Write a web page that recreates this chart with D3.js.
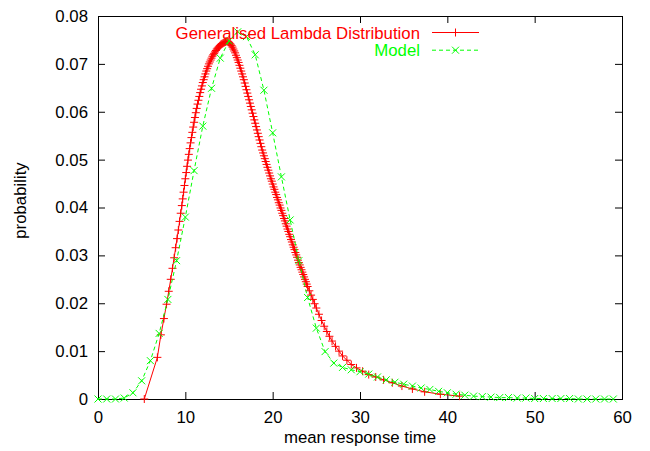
<!DOCTYPE html>
<html>
<head>
<meta charset="utf-8">
<script src="https://cdn.jsdelivr.net/npm/d3@7"></script>
<style>
  body { margin: 0; background: #fff; }
  text { font-family: "Liberation Sans", Arial, Helvetica, sans-serif; }
</style>
</head>
<body>
<div id="chart"></div>
<script>
// tick values
var xTicks = [0, 10, 20, 30, 40, 50, 60];
var yTicks = [0, 0.01, 0.02, 0.03, 0.04, 0.05, 0.06, 0.07, 0.08];

// generalised lambda distribution (dense points)
var gldX = [5.3, 6.8, 7.2, 7.55, 7.85, 8.1, 8.33, 8.53, 8.72, 8.89, 9.05, 9.2, 9.34, 9.47,
  9.6, 9.7, 9.8, 9.9, 10.0, 10.1, 10.2, 10.3, 10.4, 10.5, 10.6, 10.7, 10.8, 10.9,
  11.0, 11.1, 11.2, 11.3, 11.4, 11.5, 11.6, 11.7, 11.8, 11.9, 12.0, 12.1, 12.2, 12.3,
  12.4, 12.5, 12.6, 12.7, 12.8, 12.9, 13.0, 13.1, 13.2, 13.3, 13.4, 13.5, 13.6, 13.7,
  13.8, 13.9, 14.0, 14.1, 14.2, 14.3, 14.4, 14.5, 14.6, 14.7, 14.8, 14.9, 15.0, 15.1,
  15.2, 15.3, 15.4, 15.5, 15.6, 15.7, 15.8, 15.9, 16.0, 16.1, 16.2, 16.3, 16.4, 16.5,
  16.6, 16.7, 16.8, 16.9, 17.0, 17.1, 17.2, 17.3, 17.4, 17.5, 17.6, 17.7, 17.8, 17.9,
  18.0, 18.1, 18.2, 18.3, 18.4, 18.5, 18.6, 18.7, 18.8, 18.9, 19.0, 19.1, 19.2, 19.3,
  19.4, 19.5, 19.6, 19.7, 19.8, 19.9, 20.0, 20.1, 20.2, 20.3, 20.4, 20.5, 20.6, 20.7,
  20.8, 20.9, 21.0, 21.1, 21.2, 21.3, 21.4, 21.5, 21.6, 21.7, 21.8, 21.9, 22.0, 22.1,
  22.2, 22.3, 22.4, 22.5, 22.6, 22.7, 22.8, 22.9, 23.0, 23.1, 23.2, 23.3, 23.4, 23.5,
  23.6, 23.7, 23.8, 23.9, 24.0, 24.2, 24.4, 24.6, 24.8, 25.0, 25.3, 25.6, 25.9, 26.2,
  26.5, 26.8, 27.2, 27.6, 28.0, 28.5, 29.0, 29.6, 30.3, 31.0, 31.8, 32.7, 33.7, 34.8,
  36.0, 37.4, 39.2, 41.4];
var gldY = [0, 0.0087, 0.0134, 0.0168, 0.0198, 0.0225, 0.0250, 0.0273, 0.0295, 0.0316, 0.0335, 0.0353, 0.0371, 0.0388,
  0.0404, 0.0418, 0.0432, 0.0446, 0.0460, 0.0473, 0.0486, 0.0499, 0.0511, 0.0523, 0.0535, 0.0546, 0.0557, 0.0568,
  0.0578, 0.0588, 0.0598, 0.0607, 0.0616, 0.0624, 0.0632, 0.0640, 0.0647, 0.0654, 0.0661, 0.0667, 0.0673, 0.0679,
  0.0685, 0.0690, 0.0695, 0.0700, 0.0704, 0.0708, 0.0712, 0.0716, 0.0719, 0.0722, 0.0725, 0.0728, 0.0731, 0.0733,
  0.0735, 0.0737, 0.0739, 0.0741, 0.0742, 0.0743, 0.0744, 0.0745, 0.0746, 0.0747, 0.0747, 0.0746, 0.0745, 0.0743,
  0.0741, 0.0738, 0.0735, 0.0731, 0.0727, 0.0723, 0.0718, 0.0713, 0.0708, 0.0703, 0.0697, 0.0691, 0.0685, 0.0679,
  0.0673, 0.0667, 0.0660, 0.0653, 0.0646, 0.0639, 0.0632, 0.0625, 0.0618, 0.0611, 0.0604, 0.0597, 0.0590, 0.0583,
  0.0576, 0.0569, 0.0562, 0.0555, 0.0548, 0.0541, 0.0534, 0.0527, 0.0520, 0.0514, 0.0508, 0.0502, 0.0496, 0.0490,
  0.0484, 0.0478, 0.0472, 0.0466, 0.0460, 0.0455, 0.0449, 0.0443, 0.0438, 0.0432, 0.0427, 0.0421, 0.0416, 0.0410,
  0.0405, 0.0399, 0.0394, 0.0388, 0.0383, 0.0377, 0.0372, 0.0366, 0.0361, 0.0355, 0.0350, 0.0344, 0.0339, 0.0333,
  0.0328, 0.0322, 0.0317, 0.0312, 0.0306, 0.0301, 0.0296, 0.0290, 0.0285, 0.0280, 0.0275, 0.0270, 0.0265, 0.0260,
  0.0255, 0.0250, 0.0245, 0.0240, 0.0235, 0.0226, 0.0217, 0.0208, 0.0199, 0.0190, 0.0177, 0.0164, 0.0152, 0.0141,
  0.0131, 0.0121, 0.0110, 0.0100, 0.0090, 0.0081, 0.0072, 0.0065, 0.0058, 0.0051, 0.0046, 0.0040, 0.0034, 0.0027,
  0.0021, 0.0015, 0.0010, 0.0006];

// model histogram, one point per unit of response time
var modelX = [0, 1, 2, 3, 4, 5, 6, 7, 8, 9, 10, 11, 12, 13, 14, 15, 16, 17, 18, 19,
  20, 21, 22, 23, 24, 25, 26, 27, 28, 29, 30, 31, 32, 33, 34, 35, 36, 37, 38, 39,
  40, 41, 42, 43, 44, 45, 46, 47, 48, 49, 50, 51, 52, 53, 54, 55, 56, 57, 58, 59];
var modelY = [0, 0, 0, 0.0002, 0.0013, 0.0038, 0.0080, 0.0137, 0.0208, 0.0289,
  0.0380, 0.0477, 0.0570, 0.0649, 0.0712, 0.0748, 0.0767, 0.0757, 0.0719, 0.0645,
  0.0556, 0.0464, 0.0374, 0.0289, 0.0212, 0.0148, 0.0099, 0.0075, 0.0066, 0.0061,
  0.0057, 0.0052, 0.0046, 0.0040, 0.0035, 0.0031, 0.0027, 0.0023, 0.0020, 0.0016,
  0.0013, 0.0010, 0.0008, 0.0006, 0.0005, 0.0004, 0.0003, 0.0003, 0.0002, 0.0002,
  0.0001, 0.0001, 0.0001, 0.0001, 0.0001, 0, 0, 0, 0, 0];

var seriesNames = ["Generalised Lambda Distribution", "Model"];

// margins and size
var m = {left: 98, right: 28, top: 16, bottom: 52};
var w = 650 - m.left - m.right;
var h = 451 - m.top - m.bottom;
var red = "#ff0000", green = "#00ff00";
var fontSize = "16.8px";

var svg = d3.select("#chart")
  .append("svg")
  .attr("width", 650)
  .attr("height", 451)
  .append("g")
  .attr("transform", "translate(" + m.left + "," + m.top + ")");

var x = d3.scaleLinear().domain([0, 60]).range([0, w]);
var y = d3.scaleLinear().domain([0, 0.08]).range([h, 0]);

var fmtY = function(d) { return d === 0 ? "0" : d3.format(".2f")(d); };

// axes, ticks pointing inwards and mirrored on top/right
function styleAxis(g) {
  g.select(".domain").remove();
  g.selectAll("line").attr("stroke", "#000");
  g.selectAll("text").attr("fill", "#000").style("font-size", fontSize);
}
svg.append("g")
  .attr("transform", "translate(0," + h + ")")
  .call(d3.axisBottom(x).tickValues(xTicks).tickSize(-7).tickPadding(12).tickFormat(d3.format("d")))
  .call(styleAxis);
svg.append("g")
  .call(d3.axisLeft(y).tickValues(yTicks).tickSize(-7).tickPadding(10).tickFormat(fmtY))
  .call(styleAxis);
svg.append("g")
  .call(d3.axisTop(x).tickValues(xTicks).tickSize(-7).tickFormat(""))
  .call(styleAxis);
svg.append("g")
  .attr("transform", "translate(" + w + ",0)")
  .call(d3.axisRight(y).tickValues(yTicks).tickSize(-7).tickFormat(""))
  .call(styleAxis);

// frame
svg.append("rect")
  .attr("x", 0.5).attr("y", 0.5)
  .attr("width", w).attr("height", h)
  .attr("fill", "none").attr("stroke", "#000").attr("stroke-width", 1);

// axis titles
svg.append("text")
  .attr("x", w / 2).attr("y", h + 44)
  .attr("text-anchor", "middle")
  .style("font-size", fontSize)
  .text("mean response time");
svg.append("text")
  .attr("transform", "translate(" + (26 - m.left) + "," + (h / 2 - 7) + ") rotate(-90)")
  .attr("text-anchor", "middle")
  .style("font-size", fontSize)
  .text("probability");

var gld = gldX.map(function(v, i) { return [v, gldY[i]]; });
var model = modelX.map(function(v, i) { return [v, modelY[i]]; });

var line = d3.line()
  .x(function(d) { return x(d[0]); })
  .y(function(d) { return y(d[1]); });

function plus(s) { return "M" + (-s) + ",0H" + s + "M0," + (-s) + "V" + s; }
function cross(s) { return "M" + (-s) + "," + (-s) + "L" + s + "," + s + "M" + (-s) + "," + s + "L" + s + "," + (-s); }

// GLD curve
svg.append("path")
  .datum(gld)
  .attr("d", line)
  .attr("fill", "none")
  .attr("stroke", red)
  .attr("stroke-width", 1);
svg.append("g").selectAll("path")
  .data(gld)
  .enter()
  .append("path")
  .attr("transform", function(d) { return "translate(" + x(d[0]) + "," + y(d[1]) + ")"; })
  .attr("d", plus(4))
  .attr("fill", "none")
  .attr("stroke", red)
  .attr("stroke-width", 1);

// model curve
svg.append("path")
  .datum(model)
  .attr("d", line)
  .attr("fill", "none")
  .attr("stroke", green)
  .attr("stroke-width", 1)
  .attr("stroke-dasharray", "4,3");
svg.append("g").selectAll("path")
  .data(model)
  .enter()
  .append("path")
  .attr("transform", function(d) { return "translate(" + x(d[0]) + "," + y(d[1]) + ")"; })
  .attr("d", cross(3.5))
  .attr("fill", "none")
  .attr("stroke", green)
  .attr("stroke-width", 1);

// legend
var legend = svg.append("g").attr("transform", "translate(322,0)");
var legendRows = [
  {name: seriesNames[0], color: red, dash: null, mark: plus(4)},
  {name: seriesNames[1], color: green, dash: "4,3", mark: cross(3.5)}
];
legendRows.forEach(function(r, i) {
  var yy = 16.5 + i * 17.7;
  legend.append("text")
    .attr("x", 0).attr("y", yy + 6)
    .attr("text-anchor", "end")
    .attr("fill", r.color)
    .style("font-size", fontSize)
    .text(r.name);
  legend.append("line")
    .attr("x1", 12).attr("x2", 59)
    .attr("y1", yy).attr("y2", yy)
    .attr("stroke", r.color)
    .attr("stroke-dasharray", r.dash);
  legend.append("path")
    .attr("transform", "translate(35.5," + yy + ")")
    .attr("d", r.mark)
    .attr("fill", "none")
    .attr("stroke", r.color);
});
</script>
</body>
</html>
